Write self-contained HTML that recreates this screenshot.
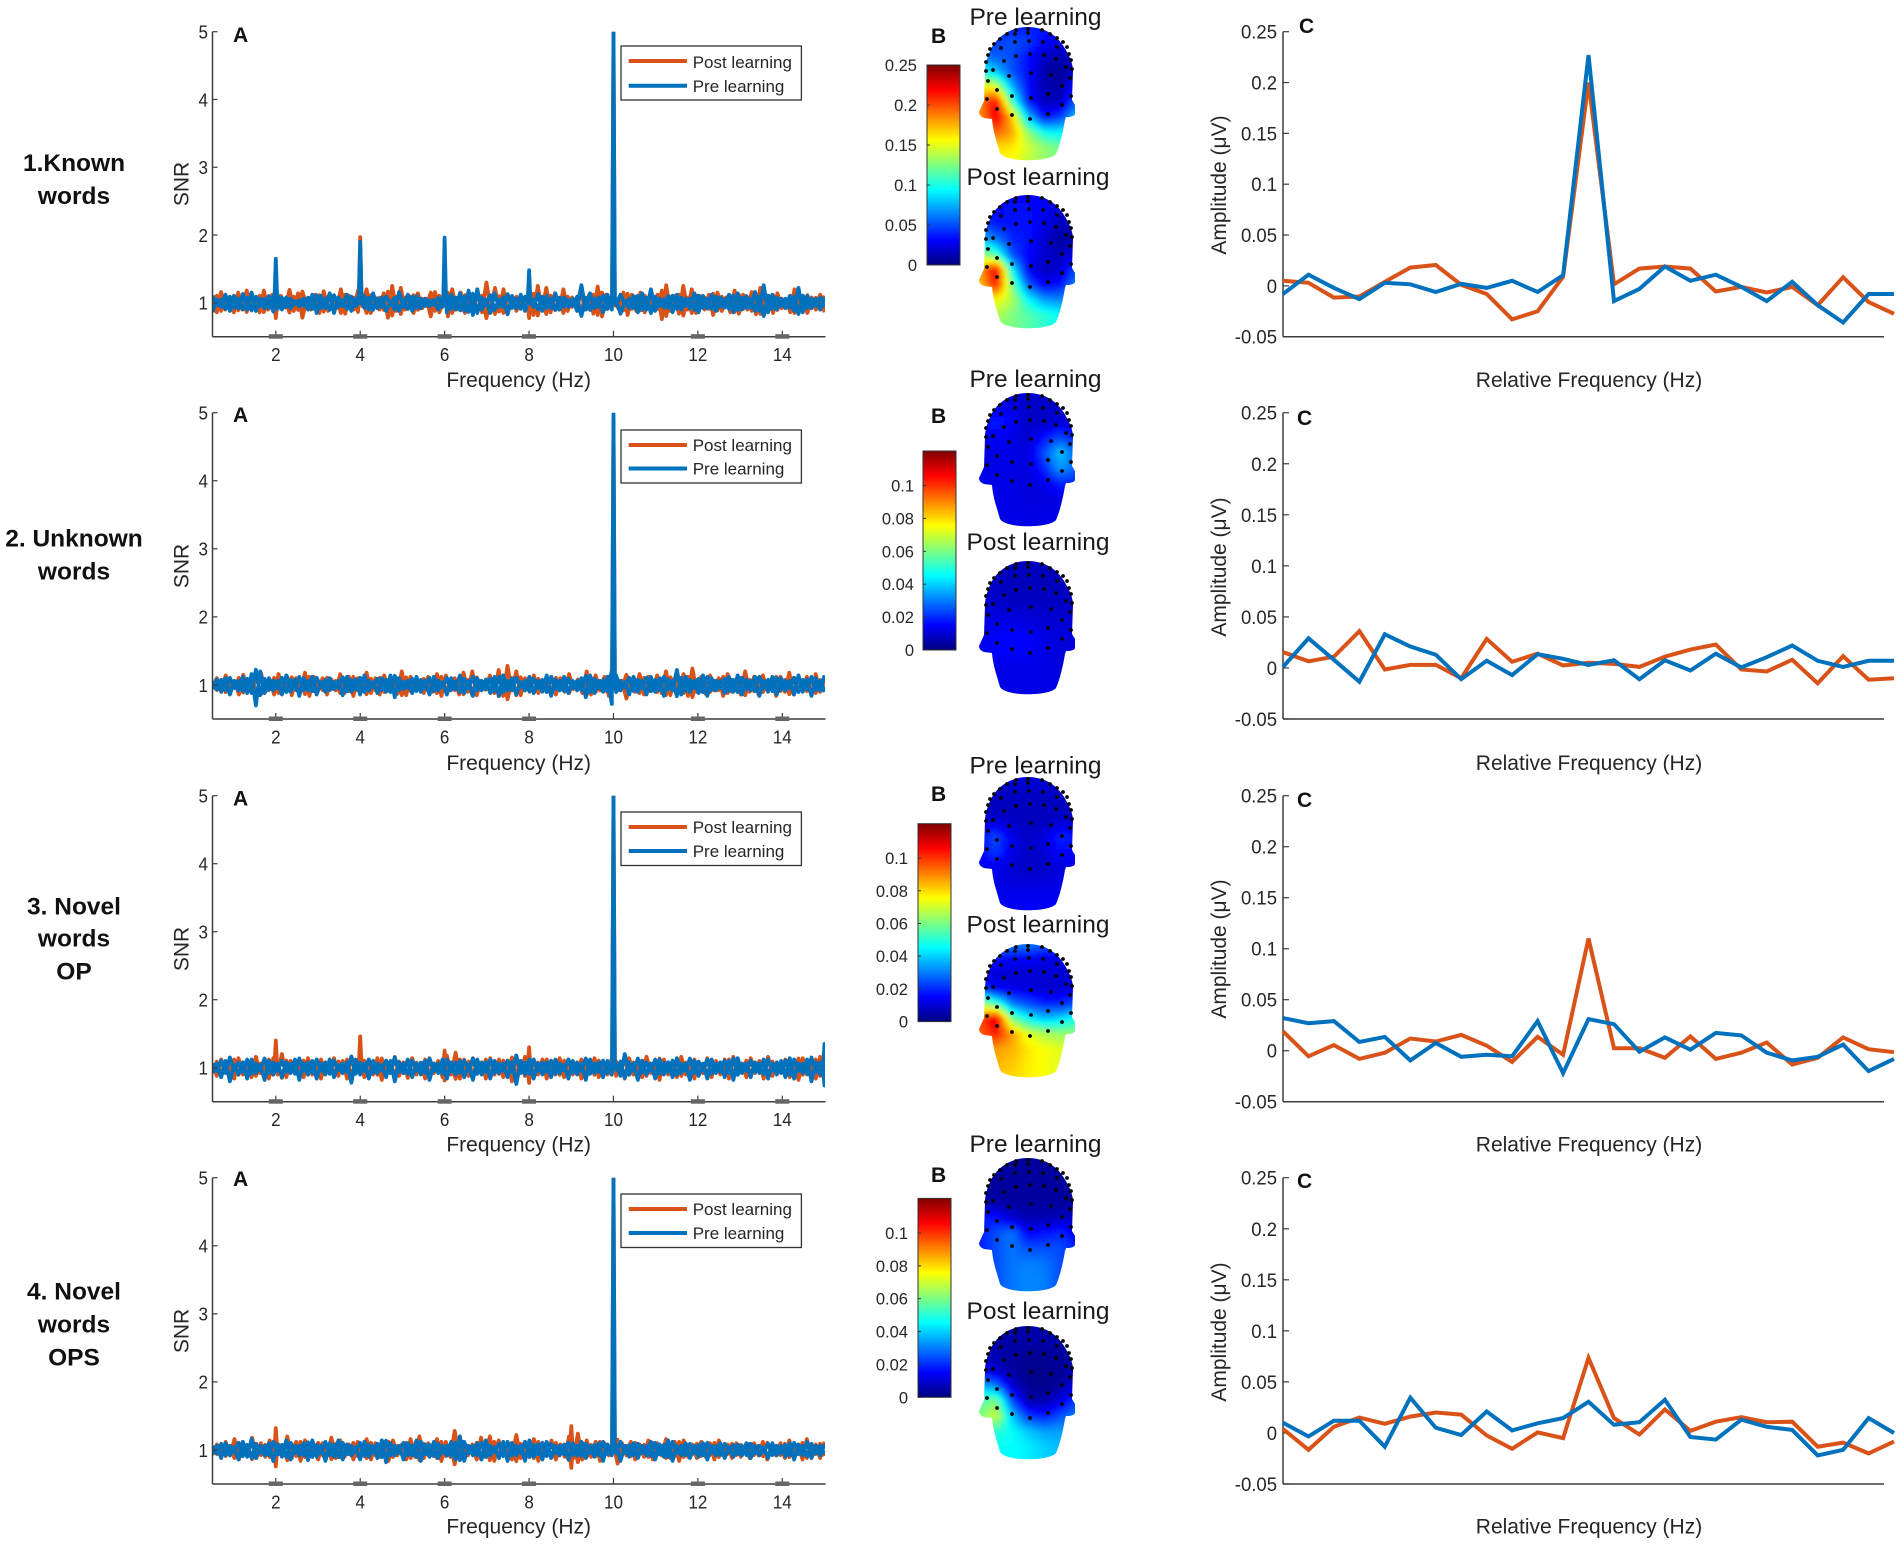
<!DOCTYPE html>
<html lang="en">
<head>
<meta charset="utf-8">
<title>SNR, topography and amplitude panels</title>
<style>
html,body{margin:0;padding:0;background:#fff;}
svg{display:block;}
text{font-family:"Liberation Sans",sans-serif;fill:#262626;}
.xl{font-size:21px;text-anchor:middle;}
.tt{font-size:24.5px;text-anchor:middle;fill:#1a1a1a;}
.rl{font-size:24.5px;font-weight:bold;text-anchor:middle;fill:#111;}
.pl{font-size:21px;font-weight:bold;fill:#111;}
.lg{font-size:17px;}
</style>
</head>
<body>
<svg id="fig" xmlns="http://www.w3.org/2000/svg" width="1901" height="1545" viewBox="0 0 1901 1545">
<defs>
<linearGradient id="jetGrad" x1="0" y1="1" x2="0" y2="0">
<stop offset="0" stop-color="#00007f"/><stop offset=".125" stop-color="#0000ff"/><stop offset=".375" stop-color="#00ffff"/><stop offset=".625" stop-color="#ffff00"/><stop offset=".875" stop-color="#ff0000"/><stop offset="1" stop-color="#7f0000"/>
</linearGradient>
<clipPath id="headClip"><path d="M0,0 C16,0 29,8 36,20 C41,28 45,36 45,44 L44,73 L47,78 L47,87 Q46,90 38,90 L37,93 C35,105 32,118 28,127 C22,135 -22,136 -28,126 C-31,115 -35,105 -36,92 L-44,91 Q-49,89 -49,85 L-44,74 L-43,44 C-43,36 -40,28 -36,20 C-29,8 -16,0 0,0Z"/></clipPath>
<filter id="soft" x="-10%" y="-10%" width="120%" height="120%"><feGaussianBlur stdDeviation="2"/></filter>
<clipPath id="aClip1"><rect x="212" y="31.7" width="613" height="305"/></clipPath>
<clipPath id="aClip2"><rect x="212" y="412.7" width="613" height="306"/></clipPath>
<clipPath id="aClip3"><rect x="212" y="795.7" width="613" height="306"/></clipPath>
<clipPath id="aClip4"><rect x="212" y="1177.7" width="613" height="306"/></clipPath>
</defs>
<rect x="0" y="0" width="1901" height="1545" fill="#fff"/>

<g id="plots"></g>

<g>
<text class="rl" x="74" y="171">1.Known</text>
<text class="rl" x="74" y="204">words</text>
<text class="rl" x="74" y="546.5">2. Unknown</text>
<text class="rl" x="74" y="579.5">words</text>
<text class="rl" x="74" y="914.5">3. Novel</text>
<text class="rl" x="74" y="946.5">words</text>
<text class="rl" x="74" y="979.5">OP</text>
<text class="rl" x="74" y="1299.5">4. Novel</text>
<text class="rl" x="74" y="1332.5">words</text>
<text class="rl" x="74" y="1365.5">OPS</text>
</g>

<g>
<text class="pl" x="233" y="42">A</text>
<text class="pl" x="931" y="43">B</text>
<text class="pl" x="1299" y="33">C</text>
<text class="pl" x="233" y="422">A</text>
<text class="pl" x="931" y="423">B</text>
<text class="pl" x="1297" y="425">C</text>
<text class="pl" x="233" y="805.5">A</text>
<text class="pl" x="931" y="801">B</text>
<text class="pl" x="1297" y="807">C</text>
<text class="pl" x="233" y="1186">A</text>
<text class="pl" x="931" y="1182">B</text>
<text class="pl" x="1297" y="1188">C</text>
</g>

<g>
<text class="xl" x="518.7" y="387">Frequency (Hz)</text>
<text class="xl" x="518.7" y="770">Frequency (Hz)</text>
<text class="xl" x="518.7" y="1151.5">Frequency (Hz)</text>
<text class="xl" x="518.7" y="1533.5">Frequency (Hz)</text>
<text class="xl" x="1589" y="387">Relative Frequency (Hz)</text>
<text class="xl" x="1589" y="770">Relative Frequency (Hz)</text>
<text class="xl" x="1589" y="1151.5">Relative Frequency (Hz)</text>
<text class="xl" x="1589" y="1533.5">Relative Frequency (Hz)</text>
<text class="xl" transform="translate(188.5,184) rotate(-90)">SNR</text>
<text class="xl" transform="translate(188.5,566) rotate(-90)">SNR</text>
<text class="xl" transform="translate(188.5,949) rotate(-90)">SNR</text>
<text class="xl" transform="translate(188.5,1331) rotate(-90)">SNR</text>
<text class="xl" transform="translate(1226,185) rotate(-90)">Amplitude (μV)</text>
<text class="xl" transform="translate(1226,567) rotate(-90)">Amplitude (μV)</text>
<text class="xl" transform="translate(1226,949) rotate(-90)">Amplitude (μV)</text>
<text class="xl" transform="translate(1226,1332) rotate(-90)">Amplitude (μV)</text>
</g>

<g>
<text class="tt" x="1035.5" y="25">Pre learning</text>
<text class="tt" x="1038" y="185">Post learning</text>
<text class="tt" x="1035.5" y="387">Pre learning</text>
<text class="tt" x="1038" y="550">Post learning</text>
<text class="tt" x="1035.5" y="773.5">Pre learning</text>
<text class="tt" x="1038" y="932.5">Post learning</text>
<text class="tt" x="1035.5" y="1152">Pre learning</text>
<text class="tt" x="1038" y="1319">Post learning</text>
</g>

<g>
<rect x="621" y="46" width="180.4" height="54" fill="#fff" stroke="#333" stroke-width="1.3"/>
<line x1="628.7" x2="687" y1="61" y2="61" stroke="#d95319" stroke-width="4"/>
<line x1="628.7" x2="687" y1="85.7" y2="85.7" stroke="#0072bd" stroke-width="4"/>
<text class="lg" x="692.7" y="68">Post learning</text>
<text class="lg" x="692.7" y="92">Pre learning</text>
</g>
<g>
<rect x="621" y="430" width="180.4" height="53" fill="#fff" stroke="#333" stroke-width="1.3"/>
<line x1="628.7" x2="687" y1="445" y2="445" stroke="#d95319" stroke-width="4"/>
<line x1="628.7" x2="687" y1="468.5" y2="468.5" stroke="#0072bd" stroke-width="4"/>
<text class="lg" x="692.7" y="451">Post learning</text>
<text class="lg" x="692.7" y="474.5">Pre learning</text>
</g>
<g>
<rect x="621" y="812" width="180.4" height="53.5" fill="#fff" stroke="#333" stroke-width="1.3"/>
<line x1="628.7" x2="687" y1="827" y2="827" stroke="#d95319" stroke-width="4"/>
<line x1="628.7" x2="687" y1="851" y2="851" stroke="#0072bd" stroke-width="4"/>
<text class="lg" x="692.7" y="833">Post learning</text>
<text class="lg" x="692.7" y="857">Pre learning</text>
</g>
<g>
<rect x="621" y="1194" width="180.4" height="53.5" fill="#fff" stroke="#333" stroke-width="1.3"/>
<line x1="628.7" x2="687" y1="1209" y2="1209" stroke="#d95319" stroke-width="4"/>
<line x1="628.7" x2="687" y1="1233" y2="1233" stroke="#0072bd" stroke-width="4"/>
<text class="lg" x="692.7" y="1215">Post learning</text>
<text class="lg" x="692.7" y="1239">Pre learning</text>
</g>
</svg>

<script>
// ---------- Panel A tick data ----------
const freqTicks = [2, 4, 6, 8, 10, 12, 14];
const snrTicks = [1, 2, 3, 4, 5];
// ---------- Panel C tick data ----------
const ampTicks = [-0.05, 0, 0.05, 0.1, 0.15, 0.2, 0.25];
const ampTickLabels = ['-0.05', '0', '0.05', '0.1', '0.15', '0.2', '0.25'];
// ---------- Colorbar tick data ----------
const cbarMax = [0.25, 0.121, 0.121, 0.121];
const cbarTicksWide = [0, 0.05, 0.1, 0.15, 0.2, 0.25];
const cbarLabelsWide = ['0', '0.05', '0.1', '0.15', '0.2', '0.25'];
const cbarTicksNarrow = [0, 0.02, 0.04, 0.06, 0.08, 0.1];
const cbarLabelsNarrow = ['0', '0.02', '0.04', '0.06', '0.08', '0.1'];

// ---------- Panel A: SNR spectra sampled every ~0.1 Hz from 0.5 to 15 Hz ----------
const a1Post = [1.02,.86,1.16,.9,1.08,.86,1.15,.9,1.18,.94,1.05,.86,1.18,.9,1.12,.84,1.1,.93,1.19,.88,1.14,.78,1.05,.9,1.12,.85,1.17,.88,1.02,.92,1.2,.84,1.1,.9,1.18,.95,1.2,.85,1.08,.9,1.14,.78,1.25,.88,1.22,.9,1.1,.85,1.14,.92,1.06,.8,1.16,.86,1.12,.8,1.2,.9,1.15,.85,1.08,.92,1.14,.86,1.3,.92,1.22,.87,1.2,.84,1.1,.88,1.05,.92,.98,.82,1.25,.9,1.22,.86,1.14,.9,1.2,.88,1.08,.92,1.2,.9,1.12,.84,1.24,.8,1.12,.94,1.05,.9,1.15,.82,1.12,.88,1.15,.86,1.08,.9,1.12,.76,1.26,.88,1.1,.84,1.25,.9,1.2,.85,1.1,.9,1.12,.82,1.15,.88,1.08,.86,1.18,.84,1.12,.9,1.16,.83,1.22,.88,1.1,.85,1.14,.92,1.05,.86,1.2,.9,1.1,.85,1.08,.9,1.12,.86];
const a1Pre = [.86,1.05,.94,1.12,.88,1.1,.92,1.13,.9,1.15,.88,1.06,.92,1.1,.87,1.12,.9,1.08,.92,1.02,.95,1.06,.9,1.12,.85,1.1,.92,1.14,.85,1.08,.95,1.12,.88,1.06,.93,1.1,.9,1.14,.92,1.08,.88,1.02,.9,1.16,.94,1.12,.88,1.1,.92,1.06,.95,1.04,.9,1.08,.86,1.12,.9,1.14,.88,1.18,.82,1.2,.9,1.05,.85,1.14,.94,1.08,.83,1.1,.92,1.12,.88,1.06,.94,1.13,.88,1.1,.92,1.14,.9,1.08,.94,1.06,.88,1.26,.9,1.14,.92,1.08,.86,1.12,.9,1.04,.84,1.02,.92,1.1,.86,1.14,.9,1.2,.88,1.06,.93,1.1,.86,1.12,.9,1.06,.92,1.14,.86,1.1,.92,1.12,.88,1.08,.93,1.12,.86,1.14,.9,1.1,.92,1.16,.88,1.26,.86,1.12,.9,1.06,.92,1.1,.88,1.22,.86,1.1,.92,1.06,.9,1.08];
const a2Post = [.98,1.1,.9,1.14,.94,1.06,.86,1.15,.92,1.1,.84,1.18,.9,1.08,.86,1.16,.92,1.12,.85,1.1,.92,1.18,.84,1.12,.94,1.1,.86,1.08,.92,1.16,.88,1.12,.84,1.1,.94,1.18,.88,1.1,.86,1.14,.92,1.08,.87,1.2,.85,1.12,.94,1.06,.88,1.12,.9,1.16,.84,1.14,.92,1.1,.86,1.18,.9,1.2,.85,1.06,.93,1.14,.88,1.22,.84,1.28,.92,1.2,.85,1.1,.9,1.14,.88,1.06,.92,1.12,.86,1.1,.9,1.16,.94,1.08,.88,1.2,.86,1.14,.92,1.12,.84,1.1,.92,1.06,.8,1.08,.9,1.16,.86,1.12,.92,1.14,.88,1.2,.85,1.1,.9,1.16,.84,1.24,.9,1.12,.87,1.14,.92,1.1,.84,1.16,.9,1.08,.86,1.2,.9,1.12,.86,1.14,.92,1.08,.84,1.12,.9,1.18,.86,1.1,.94,1.12,.86,1.16,.9,1.08];
const a2Pre = [.94,1.08,.9,1.1,.86,1.06,.92,1.12,.88,1.16,.7,1.2,.88,1.1,.92,1.06,.86,1.14,.9,1.08,.84,1.1,.92,1.12,.86,1.04,.9,1.1,.94,1.06,.85,1.12,.9,1.08,.86,1.14,.92,1.04,.88,1.1,.9,1.14,.82,1.1,.94,1.06,.88,1.12,.9,1.06,.86,1.12,.92,1.04,.86,1.1,.94,1.14,.88,1.06,.84,1.1,.92,1.08,.88,1.12,.84,1.14,.92,1.1,.86,1.04,.92,1.12,.88,1.06,.9,1.14,.84,1.08,.92,1.12,.88,1.06,.92,1.1,.82,1.14,.88,1.06,.9,1.12,.72,1.14,.92,1.04,.86,1.12,.9,1.06,.86,1.12,.9,1.1,.84,1.08,.92,1.22,.86,1.12,.9,1.06,.88,1.14,.84,1.1,.92,1.06,.88,1.12,.9,1.14,.86,1.08,.92,1.12,.84,1.06,.9,1.12,.86,1.1,.92,1.06,.86,1.14,.9,1.08,.84,1.1,.92,1.14];
const a3Post = [1.06,.88,1.12,.92,1.06,.84,1.14,.9,1.08,.86,1.16,.92,1.1,.84,1.14,.9,1.2,.86,1.1,.92,1.06,.86,1.14,.9,1.12,.84,1.08,.92,1.14,.88,1.1,.84,1.16,.92,1.08,.86,1.12,.9,1.14,.82,1.1,.92,1.16,.88,1.08,.85,1.14,.9,1.06,.84,1.14,.92,1.1,.86,1.18,.9,1.22,.84,1.12,.88,1.14,.92,1.08,.84,1.14,.9,1.12,.86,1.1,.8,1.14,.92,1.16,.86,1.1,.9,1.12,.84,1.08,.9,1.14,.86,1.12,.9,1.08,.84,1.1,.92,1.14,.86,1.06,.9,1.14,.88,1.08,.84,1.14,.9,1.1,.86,1.16,.92,1.08,.82,1.12,.9,1.06,.86,1.16,.9,1.12,.84,1.08,.92,1.14,.86,1.1,.9,1.12,.84,1.16,.9,1.06,.86,1.14,.92,1.1,.84,1.16,.88,1.08,.92,1.12,.86,1.06,.82,1.14,.9,1.1,.84,1.16,.82];
const a3Pre = [.92,1.06,.86,1.1,.8,1.04,.9,1.08,.84,1.12,.92,1.04,.82,1.1,.9,1.06,.86,1.08,.92,1.12,.82,1.06,.9,1.1,.84,1.06,.9,1.12,.86,1.04,.92,1.08,.78,1.12,.9,1.06,.84,1.1,.92,1.04,.86,1.1,.8,1.08,.92,1.12,.86,1.06,.9,1.1,.82,1.06,.92,1.12,.84,1.08,.9,1.1,.86,1.04,.82,1.12,.9,1.08,.84,1.1,.92,1.06,.86,1.08,.76,1.1,.9,1.12,.84,1.06,.9,1.08,.86,1.12,.92,1.04,.84,1.1,.9,1.06,.82,1.12,.92,1.08,.86,1.1,.9,1.04,.88,1.2,.9,1.06,.82,1.1,.9,1.06,.84,1.12,.9,1.08,.86,1.14,.92,1.06,.82,1.1,.88,1.06,.84,1.12,.92,1.08,.86,1.1,.82,1.14,.92,1.06,.86,1.08,.92,1.12,.84,1.06,.9,1.1,.86,1.14,.84,1.06,.92,1.12,.8,1.08,.9,1.12];
const a4Post = [.96,1.08,.9,1.12,.92,1.16,.86,1.1,.92,1.18,.88,1.1,.9,1.14,.86,1.08,.92,1.2,.88,1.12,.84,1.14,.92,1.08,.86,1.1,.92,1.18,.88,1.14,.9,1.08,.86,1.12,.92,1.16,.86,1.1,.9,1.12,.84,1.14,.92,1.08,.86,1.16,.9,1.2,.88,1.1,.92,1.16,.84,1.12,.9,1.28,.88,1.12,.92,1.08,.86,1.18,.9,1.2,.84,1.14,.92,1.1,.86,1.22,.88,1.12,.9,1.16,.84,1.1,.92,1.14,.86,1.08,.9,1.2,.88,1.24,.86,1.14,.9,1.12,.84,1.1,.92,1.08,.8,1.1,.92,1.12,.86,1.08,.9,1.14,.86,1.1,.92,1.16,.88,1.12,.84,1.14,.9,1.08,.88,1.12,.9,1.1,.86,1.14,.92,1.08,.88,1.1,.9,1.06,.88,1.1,.92,1.12,.86,1.06,.92,1.1,.88,1.14,.9,1.08,.86,1.16,.9,1.08,.88,1.12];
const a4Pre = [.93,1.06,.88,1.1,.92,1.04,.86,1.12,.9,1.16,.88,1.06,.92,1.1,.84,1.08,.9,1.14,.86,1.06,.92,1.1,.85,1.14,.9,1.06,.84,1.1,.9,1.14,.86,1.08,.92,1.04,.86,1.12,.9,1.06,.88,1.14,.82,1.1,.92,1.06,.86,1.1,.92,1.14,.84,1.08,.9,1.12,.88,1.06,.92,1.12,.86,1.2,.84,1.06,.92,1.1,.86,1.14,.92,1.04,.88,1.12,.84,1.1,.92,1.06,.84,1.14,.9,1.08,.86,1.12,.88,1.06,.92,1.08,.86,1.1,.92,1.12,.88,1.06,.9,1.1,.84,1.08,.92,1.06,.84,1.06,.9,1.1,.88,1.06,.92,1.12,.86,1.08,.9,1.14,.84,1.06,.92,1.1,.88,1.06,.9,1.1,.86,1.06,.92,1.1,.88,1.04,.9,1.08,.92,1.1,.88,1.06,.92,1.04,.88,1.1,.92,1.06,.9,1.1,.86,1.08,.92,1.12,.88,1.06,.92,1.08];

// Response peaks at harmonics (Hz, SNR)
const a1PostPeakHz = [2, 4, 6, 8, 10];
const a1PostPeakSnr = [1.3, 1.97, 1.5, 1.3, 5];
const a1PrePeakHz = [2, 4, 6, 8, 10];
const a1PrePeakSnr = [1.65, 1.9, 1.96, 1.48, 5];
const a2PostPeakHz = [10];
const a2PostPeakSnr = [4.9];
const a2PrePeakHz = [10];
const a2PrePeakSnr = [5];
const a3PostPeakHz = [2, 4, 6, 8, 10];
const a3PostPeakSnr = [1.4, 1.46, 1.25, 1.3, 5];
const a3PrePeakHz = [10, 15];
const a3PrePeakSnr = [5, 1.35];
const a4PostPeakHz = [2, 9, 10];
const a4PostPeakSnr = [1.32, 1.35, 5];
const a4PrePeakHz = [10];
const a4PrePeakSnr = [5];

// ---------- Panel C: amplitude at 25 relative-frequency bins ----------
const c1Post = [.005,.003,-.0115,-.0105,.004,.018,.0205,.001,-.008,-.033,-.025,.009,.2,.0015,.017,.019,.017,-.0055,-.001,-.0065,-.001,-.019,.0085,-.016,-.0275];
const c1Pre = [-.008,.011,-.002,-.013,.003,.0015,-.006,.002,-.002,.005,-.006,.0105,.227,-.015,-.003,.019,.005,.011,-.001,-.015,.004,-.019,-.036,-.008,-.008];
const c2Post = [.0155,.0065,.011,.036,-.0015,.003,.003,-.01,.0285,.006,.014,.0025,.005,.004,.001,.011,.018,.023,-.0015,-.0035,.008,-.015,.0115,-.0115,-.01];
const c2Pre = [.001,.029,.008,-.0135,.033,.021,.013,-.011,.007,-.007,.0135,.009,.003,.0075,-.011,.0075,-.0025,.014,.0005,.0105,.022,.007,.001,.007,.007];
const c3Post = [.019,-.0055,.0055,-.008,-.002,.012,.009,.0155,.005,-.011,.0135,-.004,.11,.0025,.0025,-.007,.014,-.008,-.002,.008,-.0135,-.007,.013,.0015,-.0015];
const c3Pre = [.032,.027,.029,.0085,.0135,-.0095,.0075,-.006,-.004,-.0055,.029,-.022,.031,.026,-.001,.013,.001,.0175,.015,-.002,-.0095,-.006,.006,-.02,-.008];
const c4Post = [.004,-.0165,.006,.015,.009,.016,.02,.018,-.0025,-.0155,.0005,-.005,.0735,.0145,-.0015,.023,.002,.011,.0155,.0105,.011,-.0135,-.0095,-.02,-.0085];
const c4Pre = [.01,-.0035,.012,.012,-.0135,.0345,.005,-.002,.021,.0025,.0095,.0145,.0305,.008,.0105,.0325,-.004,-.0065,.013,.006,.003,-.022,-.0165,.0145,0];

// ---------- Panel B: scalp values as colormap fractions, 10 rows by 7 columns ----------
const head1Pre = [
[.15,.15,.15,.15,.15,.12,.1],[.18,.18,.2,.18,.12,.1,.1],[.25,.22,.2,.14,.07,.05,.08],[.4,.32,.2,.14,.04,.02,.08],[.65,.6,.3,.13,.05,.04,.14],
[.75,.88,.45,.15,.06,.06,.22],[.72,.9,.68,.32,.14,.18,.32],[.7,.78,.72,.52,.38,.36,.4],[.65,.66,.65,.58,.52,.48,.45],[.62,.62,.62,.56,.52,.5,.48]];
const head1Post = [
[.12,.12,.12,.12,.1,.1,.1],[.14,.12,.14,.14,.12,.08,.08],[.2,.15,.14,.14,.1,.06,.06],[.32,.25,.16,.14,.08,.03,.06],[.55,.45,.2,.13,.08,.06,.1],
[.72,.9,.38,.12,.06,.08,.2],[.68,.85,.5,.22,.12,.14,.26],[.58,.62,.55,.38,.28,.26,.3],[.55,.55,.5,.46,.42,.38,.36],[.52,.5,.5,.46,.42,.38,.36]];
const head2Pre = [
[.08,.08,.08,.08,.08,.08,.08],[.1,.12,.1,.07,.07,.07,.07],[.12,.15,.12,.07,.07,.09,.09],[.1,.12,.1,.08,.14,.2,.15],[.1,.1,.1,.09,.2,.32,.22],
[.1,.1,.1,.09,.16,.28,.22],[.11,.1,.1,.09,.11,.16,.16],[.1,.1,.1,.09,.09,.1,.1],[.1,.1,.1,.1,.1,.1,.1],[.1,.1,.1,.1,.1,.1,.1]];
const head2Post = [
[.06,.06,.06,.06,.06,.06,.06],[.07,.07,.06,.06,.06,.06,.06],[.08,.07,.06,.06,.06,.06,.07],[.09,.08,.07,.07,.07,.07,.07],[.1,.1,.1,.09,.08,.08,.08],
[.11,.12,.13,.12,.1,.09,.09],[.11,.12,.13,.12,.1,.09,.09],[.1,.1,.1,.1,.1,.09,.09],[.1,.1,.1,.1,.1,.1,.1],[.1,.1,.1,.1,.1,.1,.1]];
const head3Pre = [
[.09,.09,.09,.09,.09,.09,.09],[.07,.07,.07,.07,.07,.07,.07],[.07,.06,.06,.06,.06,.06,.07],[.09,.09,.07,.06,.06,.08,.09],[.14,.2,.1,.07,.09,.16,.14],
[.13,.18,.1,.07,.08,.13,.12],[.11,.11,.08,.07,.07,.09,.1],[.1,.1,.09,.09,.09,.1,.1],[.11,.11,.11,.11,.11,.11,.11],[.12,.12,.12,.12,.12,.12,.12]];
const head3Post = [
[.25,.25,.25,.25,.22,.2,.15],[.15,.14,.12,.12,.1,.1,.1],[.12,.08,.08,.08,.08,.08,.09],[.2,.12,.1,.1,.08,.08,.1],[.55,.45,.25,.2,.16,.16,.2],
[.8,.92,.5,.38,.32,.34,.4],[.78,.85,.72,.6,.55,.52,.52],[.72,.72,.7,.65,.62,.6,.55],[.7,.7,.68,.64,.62,.6,.56],[.68,.68,.66,.64,.62,.6,.56]];
const head4Pre = [
[.03,.03,.03,.03,.03,.03,.03],[.03,.03,.03,.03,.03,.03,.03],[.03,.03,.03,.03,.03,.03,.03],[.05,.04,.03,.03,.03,.03,.03],[.14,.14,.08,.05,.05,.06,.07],
[.15,.2,.24,.12,.14,.16,.12],[.15,.2,.24,.2,.2,.2,.15],[.18,.2,.24,.25,.24,.2,.17],[.18,.2,.24,.26,.25,.2,.17],[.18,.2,.24,.26,.25,.2,.17]];
const head4Post = [
[.04,.04,.04,.04,.04,.04,.04],[.05,.04,.04,.04,.04,.04,.04],[.07,.05,.03,.02,.02,.03,.04],[.12,.08,.03,.01,.01,.02,.05],[.3,.25,.08,.02,.01,.03,.1],
[.45,.5,.2,.05,.04,.1,.18],[.5,.58,.32,.18,.15,.2,.25],[.42,.42,.38,.32,.28,.28,.28],[.38,.38,.38,.36,.33,.31,.3],[.38,.38,.38,.36,.33,.31,.3]];

// ---------- Layout (not data) ----------
const SVGNS = 'http://www.w3.org/2000/svg';
const plots = document.getElementById('plots');
const rowTop = [31.7, 412.7, 795.7, 1177.7];
const rowBottom = [336.7, 719, 1101.7, 1484];
const aLeft = 212.5, aRight = 824.5;
const cLeft = 1283, cRight = 1884, cStep = 25.46;
const AXIS = '#3c3c3c', ORANGE = '#d95319', BLUE = '#0072bd';

function make(tag, attrs, parent, txt) {
  const node = document.createElementNS(SVGNS, tag);
  for (const k in attrs) node.setAttribute(k, attrs[k]);
  if (txt !== undefined) node.textContent = txt;
  parent.appendChild(node);
  return node;
}

// ---------- Scales ----------
function xFreq(f) { return aLeft + (f - 0.5) / 14.5 * (aRight - aLeft); }
function ySnr(v, r) { return rowBottom[r] - (v - 0.5) / 4.5 * (rowBottom[r] - rowTop[r]); }
function xBin(i) { return cLeft + i * cStep; }
function yAmp(v, r) { return rowBottom[r] - (v + 0.05) / 0.3 * (rowBottom[r] - rowTop[r]); }

// ---------- Panel A ----------
function spectrumPoints(vals, peakHz, peakSnr) {
  const n = vals.length;
  let pts = vals.map(function (v, i) { return [0.5 + i * 14.5 / (n - 1), v]; });
  peakHz.forEach(function (f, k) {
    pts = pts.filter(function (p) { return Math.abs(p[0] - f) > 0.03; });
    pts.push([f - 0.035, 1.0]);
    pts.push([f, peakSnr[k]]);
    pts.push([f + 0.035, 1.0]);
  });
  pts.sort(function (a, b) { return a[0] - b[0]; });
  return pts;
}
function pointString(pts, r) {
  return pts.map(function (p) { return xFreq(p[0]).toFixed(1) + ',' + ySnr(p[1], r).toFixed(1); }).join(' ');
}
// The dense spectrum is denser than the sample grid; an inverted trace fills the noise floor as in the original.
function floorFill(pts) {
  return pts.map(function (p) { return [p[0], p[1] > 1.35 ? 1 : 1 + (1 - p[1]) * 0.75]; });
}
function drawA(r, post, postHz, postSnr, pre, preHz, preSnr) {
  const g = make('g', {}, plots);
  
  
  const clip = make('g', { 'clip-path': 'url(#aClip' + (r + 1) + ')' }, g);
  
  
  const postPts = spectrumPoints(post, postHz, postSnr);
  const postLine = make('polyline', { points: pointString(postPts, r), fill: 'none', stroke: ORANGE, 'stroke-width': 3.8, 'stroke-linejoin': 'round' }, clip);
  
  
  const postFill = make('polyline', { points: pointString(floorFill(postPts), r), fill: 'none', stroke: ORANGE, 'stroke-width': 3.8, 'stroke-linejoin': 'round' }, clip);
  
  
  const prePts = spectrumPoints(pre, preHz, preSnr);
  const preLine = make('polyline', { points: pointString(prePts, r), fill: 'none', stroke: BLUE, 'stroke-width': 3.8, 'stroke-linejoin': 'round' }, clip);
  
  
  const preFill = make('polyline', { points: pointString(floorFill(prePts), r), fill: 'none', stroke: BLUE, 'stroke-width': 3.8, 'stroke-linejoin': 'round' }, clip);
  
  
  const yAxis = make('line', { x1: aLeft, x2: aLeft, y1: rowTop[r], y2: rowBottom[r], stroke: AXIS, 'stroke-width': 1.5 }, g);
  
  
  const xAxis = make('line', { x1: aLeft, x2: aRight + 1, y1: rowBottom[r], y2: rowBottom[r], stroke: AXIS, 'stroke-width': 1.5 }, g);
  
  
  snrTicks.forEach(function (v) {
    const y = ySnr(v, r);
    const t = make('line', { x1: aLeft, x2: aLeft + 5, y1: y, y2: y, stroke: AXIS, 'stroke-width': 1.2 }, g);
    
    
    const l = make('text', { transform: 'translate(208,' + (y + 6.8) + ') scale(.92,1)', 'text-anchor': 'end', 'font-size': 18.5 }, g, String(v));
    
    
  });
  freqTicks.forEach(function (f) {
    const x = xFreq(f);
    const t = make('line', { x1: x, x2: x, y1: rowBottom[r] - 6, y2: rowBottom[r], stroke: AXIS, 'stroke-width': 1.2 }, g);
    
    
    if (f !== 10) {
      const b = make('rect', { x: x - 7, y: rowBottom[r] - 2.5, width: 14, height: 4.5, fill: '#666' }, g);
      
      
    }
    const l = make('text', { transform: 'translate(' + x + ',' + (rowBottom[r] + 24.5) + ') scale(.92,1)', 'text-anchor': 'middle', 'font-size': 18.5 }, g, String(f));
    
    
  });
}

// ---------- Panel C ----------
function drawC(r, post, pre) {
  const g = make('g', {}, plots);
  
  
  const yAxis = make('line', { x1: cLeft, x2: cLeft, y1: rowTop[r], y2: rowBottom[r], stroke: AXIS, 'stroke-width': 1.5 }, g);
  
  
  const xAxis = make('line', { x1: cLeft, x2: cRight, y1: rowBottom[r], y2: rowBottom[r], stroke: AXIS, 'stroke-width': 1.5 }, g);
  
  
  ampTicks.forEach(function (v, i) {
    const y = yAmp(v, r);
    const t = make('line', { x1: cLeft, x2: cLeft + 6, y1: y, y2: y, stroke: AXIS, 'stroke-width': 1.2 }, g);
    
    
    const l = make('text', { transform: 'translate(1277,' + (y + 7) + ') scale(.95,1)', 'text-anchor': 'end', 'font-size': 19.5 }, g, ampTickLabels[i]);
    
    
  });
  const postStr = post.map(function (v, i) { return xBin(i).toFixed(1) + ',' + yAmp(v, r).toFixed(1); }).join(' ');
  const postLine = make('polyline', { points: postStr, fill: 'none', stroke: ORANGE, 'stroke-width': 4, 'stroke-linejoin': 'miter' }, g);
  
  
  const preStr = pre.map(function (v, i) { return xBin(i).toFixed(1) + ',' + yAmp(v, r).toFixed(1); }).join(' ');
  const preLine = make('polyline', { points: preStr, fill: 'none', stroke: BLUE, 'stroke-width': 4, 'stroke-linejoin': 'miter' }, g);
  
  
}

// ---------- Panel B ----------
function jet(t) {
  const c = function (v) { return Math.round(255 * Math.max(0, Math.min(1, v))); };
  return 'rgb(' + c(1.5 - Math.abs(4 * t - 3)) + ',' + c(1.5 - Math.abs(4 * t - 2)) + ',' + c(1.5 - Math.abs(4 * t - 1)) + ')';
}
function sampleGrid(grid, lx, ly) {
  const col = Math.max(0, Math.min(5.999, (lx + 48) / 16));
  const row = Math.max(0, Math.min(8.999, ly / 15));
  const c0 = Math.floor(col), r0 = Math.floor(row);
  const fx = col - c0, fy = row - r0;
  const top = grid[r0][c0] * (1 - fx) + grid[r0][c0 + 1] * fx;
  const bot = grid[r0 + 1][c0] * (1 - fx) + grid[r0 + 1][c0 + 1] * fx;
  return top * (1 - fy) + bot * fy;
}
const electrodes = [[0,2],[-12,3],[14,3],[-21,7],[22,7],[-28,12],[29,11],[-34,17],[35,15],[-38,22],[39,20],[-40,28],[41,27],[-42,35],[43,33],[-42,44],[44,42],[-13,7],[0,6],[-13,15],[1,14],[15,15],[-27,21],[29,20],[-12,29],[2,27],[16,28],[-24,34],[28,32],[-35,43],[-19,49],[3,46],[23,48],[38,40],[42,51],[-40,54],[-31,63],[-16,69],[3,71],[20,67],[34,59],[43,69],[-41,72],[-31,82],[34,78],[2,92],[-16,88],[20,87]];
function drawHead(grid, top) {
  const g = make('g', { transform: 'translate(1028,' + top + ')' }, plots);
  
  
  const clipped = make('g', { 'clip-path': 'url(#headClip)' }, g);
  
  
  const soft = make('g', { filter: 'url(#soft)', 'shape-rendering': 'crispEdges' }, clipped);
  
  
  for (let ly = -8; ly < 142; ly += 4) {
    for (let lx = -56; lx < 56; lx += 4) {
      const cell = make('rect', { x: lx, y: ly, width: 4.5, height: 4.5, fill: jet(sampleGrid(grid, lx + 2, ly + 2)) }, soft);
      
      
    }
  }
  electrodes.forEach(function (e) {
    const d = make('circle', { cx: e[0], cy: e[1], r: 1.9, fill: '#050505' }, g);
    
    
  });
}
function drawColorbar(x, y0, y1, labelX, max, ticks, labels) {
  const g = make('g', {}, plots);
  
  
  const bar = make('rect', { x: x, y: y0, width: 33, height: y1 - y0, fill: 'url(#jetGrad)', stroke: '#333', 'stroke-width': 1 }, g);
  
  
  ticks.forEach(function (v, i) {
    const y = y1 - v / max * (y1 - y0);
    const t = make('line', { x1: x, x2: x + 3, y1: y, y2: y, stroke: '#333', 'stroke-width': 1 }, g);
    
    
    const l = make('text', { x: labelX, y: y + 6, 'text-anchor': 'end', 'font-size': 16.5 }, g, labels[i]);
    
    
  });
}

drawA(0, a1Post, a1PostPeakHz, a1PostPeakSnr, a1Pre, a1PrePeakHz, a1PrePeakSnr);
drawA(1, a2Post, a2PostPeakHz, a2PostPeakSnr, a2Pre, a2PrePeakHz, a2PrePeakSnr);
drawA(2, a3Post, a3PostPeakHz, a3PostPeakSnr, a3Pre, a3PrePeakHz, a3PrePeakSnr);
drawA(3, a4Post, a4PostPeakHz, a4PostPeakSnr, a4Pre, a4PrePeakHz, a4PrePeakSnr);

drawC(0, c1Post, c1Pre);
drawC(1, c2Post, c2Pre);
drawC(2, c3Post, c3Pre);
drawC(3, c4Post, c4Pre);

drawHead(head1Pre, 27);
drawHead(head1Post, 195);
drawHead(head2Pre, 393);
drawHead(head2Post, 561);
drawHead(head3Pre, 777);
drawHead(head3Post, 944);
drawHead(head4Pre, 1158);
drawHead(head4Post, 1326);

drawColorbar(927, 65, 265, 917, cbarMax[0], cbarTicksWide, cbarLabelsWide);
drawColorbar(923, 451, 650, 914, cbarMax[1], cbarTicksNarrow, cbarLabelsNarrow);
drawColorbar(918, 823.7, 1021.6, 908, cbarMax[2], cbarTicksNarrow, cbarLabelsNarrow);
drawColorbar(918, 1198.4, 1397.3, 908, cbarMax[3], cbarTicksNarrow, cbarLabelsNarrow);
</script>
</body>
</html>
